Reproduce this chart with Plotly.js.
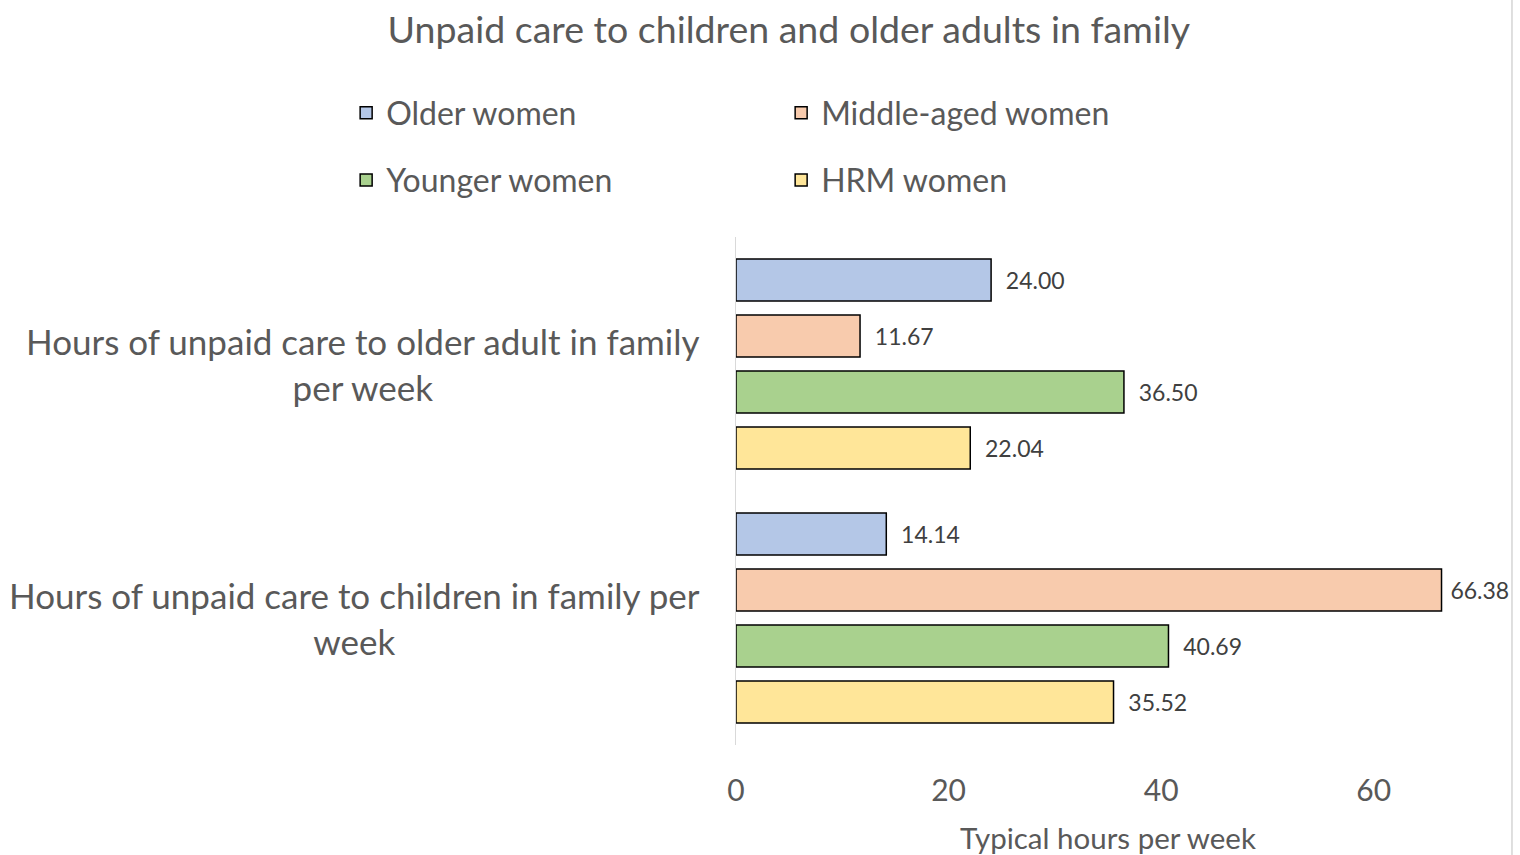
<!DOCTYPE html>
<html>
<head>
<meta charset="utf-8">
<script src="https://cdn.plot.ly/plotly-3.0.1.min.js"></script>
<style>html,body{margin:0;padding:0;background:#fff;}#chart{width:1520px;height:855px;}</style>
</head>
<body>
<div id="chart"></div>
<script>
const categories = ["Hours of unpaid care to older adult in family per week", "Hours of unpaid care to children in family per week"];
const categoryLabels = ["Hours of unpaid care to older adult in family<br>per week", "Hours of unpaid care to children in family per<br>week"];
const seriesNames = ["Older women", "Middle-aged women", "Younger women", "HRM women"];
const olderWomen = [24.00, 14.14];
const middleAgedWomen = [11.67, 66.38];
const youngerWomen = [36.50, 40.69];
const hrmWomen = [22.04, 35.52];
const xTicks = [0, 20, 40, 60];

const colors = ["#B4C7E7", "#F8CBAD", "#A9D18E", "#FFE699"];
const seriesValues = [olderWomen, middleAgedWomen, youngerWomen, hrmWomen];
const legendIds = ["legend", "legend", "legend2", "legend2"];
const FONT = "Lato, 'Open Sans', sans-serif";
const TXT = "#595959";

const traces = seriesValues.map((vals, i) => ({
  type: "bar",
  orientation: "h",
  name: seriesNames[i],
  x: vals,
  y: categories,
  legend: legendIds[i],
  marker: {color: colors[i], line: {color: "#000000", width: 1.5}},
  texttemplate: vals.map(v => (v > 60 ? "\u00a0" : "\u00a0\u00a0") + "%{x:.2f}"),
  textposition: "outside",
  constraintext: "none",
  cliponaxis: false,
  textfont: {family: FONT, size: 23, color: "#404040"},
  hoverinfo: "x+name"
}));

const annotations = categories.map((c, i) => ({
  x: -0.046, xref: "paper", xanchor: "right",
  y: c, yref: "y", yanchor: "middle",
  text: categoryLabels[i], align: "center", showarrow: false,
  font: {family: FONT, size: 35, color: TXT}
}));

const legendCommon = {orientation: "h", xref: "paper", yref: "paper", xanchor: "left", yanchor: "middle",
  entrywidth: 390, entrywidthmode: "pixels", font: {family: FONT, size: 32, color: TXT}, traceorder: "normal"};

const layout = {
  width: 1520, height: 855,
  margin: {l: 736, r: 40, t: 237, b: 110, autoexpand: false},
  paper_bgcolor: "#ffffff", plot_bgcolor: "#ffffff",
  font: {family: FONT, color: TXT},
  title: {text: "Unpaid care to children and older adults in family", xref: "container", x: 0.519, xanchor: "center", yref: "container", y: 0.965, yanchor: "middle", font: {family: FONT, size: 37.5, color: TXT}},
  barmode: "group",
  bargap: 0.118,
  bargroupgap: 0.25,
  xaxis: {
    range: [0, 70], tickvals: xTicks, ticktext: xTicks.map(String),
    showgrid: false, zeroline: false, showline: false, ticks: "",
    ticklabelstandoff: 25,
    tickfont: {family: FONT, size: 30, color: TXT},
    title: {text: "Typical hours per week", standoff: 23, font: {family: FONT, size: 29.5, color: TXT}}
  },
  yaxis: {
    type: "category", autorange: "reversed", showticklabels: false,
    showgrid: false, zeroline: false, showline: true, linecolor: "#D9D9D9", linewidth: 1.5, ticks: ""
  },
  legend: Object.assign({}, legendCommon, {x: -0.524, y: 1.244}),
  legend2: Object.assign({}, legendCommon, {x: -0.524, y: 1.112}),
  annotations: annotations,
  shapes: [{type: "line", xref: "paper", yref: "paper", x0: 1.043, x1: 1.043, y0: -0.2165, y1: 1.467, line: {color: "#BFBFBF", width: 1}}],
  showlegend: true
};

Plotly.newPlot("chart", traces, layout, {displayModeBar: false, staticPlot: true});
</script>
</body>
</html>
